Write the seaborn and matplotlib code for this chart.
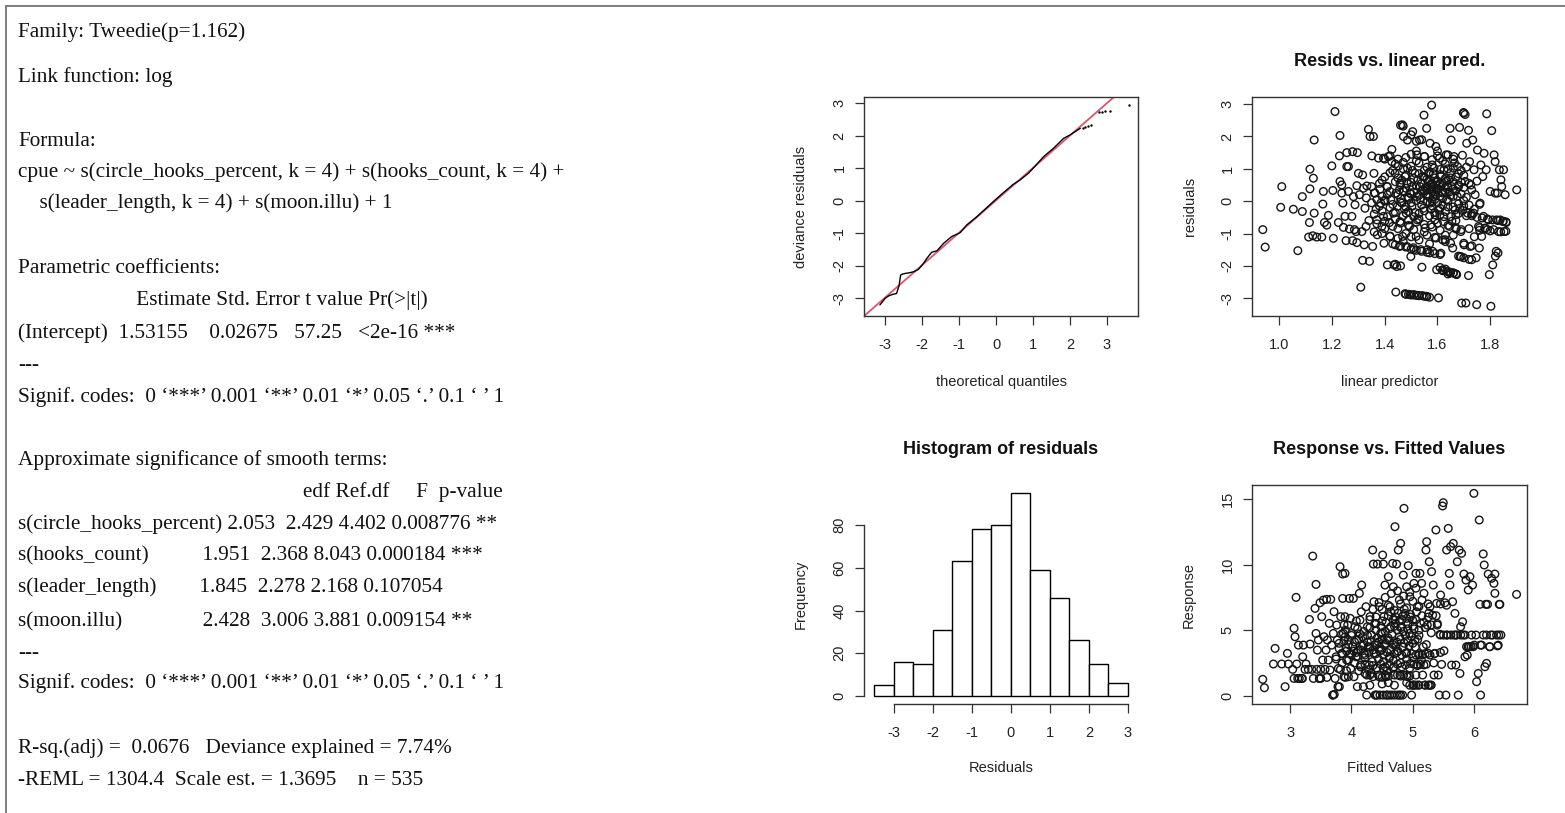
import matplotlib
matplotlib.use("Agg")
import matplotlib.pyplot as plt
import seaborn as sns
from matplotlib.lines import Line2D

# ---------------- data ----------------
summary_lines = [
    "Family: Tweedie(p=1.162)",
    "Link function: log",
    "Formula:",
    "cpue ~ s(circle_hooks_percent, k = 4) + s(hooks_count, k = 4) +",
    "    s(leader_length, k = 4) + s(moon.illu) + 1",
    "Parametric coefficients:",
    " " * 22 + "Estimate Std. Error t value Pr(>|t|)",
    "(Intercept)  1.53155    0.02675   57.25   <2e-16 ***",
    "---",
    "Signif. codes:  0 \u2018***\u2019 0.001 \u2018**\u2019 0.01 \u2018*\u2019 0.05 \u2018.\u2019 0.1 \u2018 \u2019 1",
    "Approximate significance of smooth terms:",
    " " * 53 + "edf Ref.df     F  p-value",
    "s(circle_hooks_percent) 2.053  2.429 4.402 0.008776 **",
    "s(hooks_count)          1.951  2.368 8.043 0.000184 ***",
    "s(leader_length)        1.845  2.278 2.168 0.107054",
    "s(moon.illu)               2.428  3.006 3.881 0.009154 **",
    "---",
    "Signif. codes:  0 \u2018***\u2019 0.001 \u2018**\u2019 0.01 \u2018*\u2019 0.05 \u2018.\u2019 0.1 \u2018 \u2019 1",
    "R-sq.(adj) =  0.0676   Deviance explained = 7.74%",
    "-REML = 1304.4  Scale est. = 1.3695    n = 535",
]
summary_baselines_px = [37.3, 81.7, 145.7, 176.7, 208.3, 273.3, 305, 338.3, 370, 401.7,
                        465, 496.7, 529.3, 560, 591.7, 626.7, 657.5, 688.3, 753.3, 785]

qq_theoretical = [-3.14, -3.0, -2.9, -2.78, -2.69, -2.62, -2.58, -2.52, -2.45, -2.38, -2.3, -2.23,
                  -2.1, -1.98, -1.87, -1.74, -1.6, -1.42, -1.2, -0.97, -0.79, -0.52, -0.25, -0.02,
                  0.2, 0.47, 0.65, 0.88, 1.06, 1.29, 1.56, 1.83, 2.01, 2.28]
qq_deviance = [-3.2, -3.0, -2.92, -2.87, -2.85, -2.6, -2.28, -2.25, -2.23, -2.22, -2.2, -2.18,
               -2.11, -1.95, -1.77, -1.58, -1.54, -1.31, -1.1, -0.98, -0.74, -0.49, -0.21, 0.03,
               0.25, 0.51, 0.64, 0.85, 1.07, 1.36, 1.62, 1.92, 2.03, 2.23]
qq_tail_theoretical = [2.35, 2.42, 2.5, 2.56, 2.78, 2.86, 2.95, 3.08, 3.6]
qq_tail_deviance = [2.25, 2.27, 2.3, 2.32, 2.72, 2.74, 2.76, 2.77, 2.93]
ref_slope = 0.996
ref_intercept = 0.014

resid_points = [
    (0.937, -0.88), (0.946, -1.42), (1.009, 0.45), (1.005, -0.19), (1.053, -0.25), (1.07, -1.53),
    (1.087, 0.14), (1.087, -0.32), (1.116, 0.99), (1.116, 0.38), (1.114, -0.66), (1.111, -1.11),
    (1.127, -1.07), (1.132, 1.89), (1.129, 0.71), (1.132, -0.37), (1.142, -1.11), (1.161, -1.11),
    (1.167, 0.30), (1.165, -0.09), (1.171, -0.66), (1.18, -0.74), (1.186, -0.44), (1.199, 1.09),
    (1.203, 0.33), (1.205, -1.15), (1.211, 2.77), (1.224, -0.66), (1.23, 2.03), (1.228, 1.40),
    (1.23, 0.61), (1.237, 0.50), (1.237, 0.25), (1.241, -0.06), (1.243, -0.81), (1.249, -0.47),
    (1.253, -1.22), (1.256, 1.50), (1.256, 1.07), (1.262, 1.07), (1.262, 0.30), (1.266, -0.86),
    (1.275, -0.47), (1.278, 1.53), (1.278, -1.22), (1.281, 0.14), (1.285, -0.88), (1.287, -0.11),
    (1.291, -0.94), (1.294, 0.48), (1.294, -1.28), (1.296, 1.50), (1.30, 0.86), (1.304, 0.20),
    (1.309, -2.66), (1.313, -0.94), (1.316, -1.83), (1.316, 0.81), (1.319, 0.40), (1.322, -1.35),
    (1.325, -0.22), (1.329, -0.78), (1.332, 0.47), (1.338, 2.22), (1.342, -1.86), (1.344, 2.00),
    (1.351, 1.40), (1.357, 2.00), (1.359, 0.86), (1.354, -1.40), (1.363, 0.25), (1.367, -0.25),
    (1.37, -0.58), (1.372, -1.04), (1.376, 1.33), (1.382, 0.37), (1.385, -0.06), (1.389, -0.78),
    (1.395, 1.33), (1.395, -0.47), (1.397, -1.30), (1.401, 0.04), (1.408, 0.45), (1.41, -1.97),
    (1.414, 1.38), (1.418, -0.66), (1.42, -1.09), (1.423, 0.04), (1.427, 1.60), (1.427, 1.22),
    (1.43, -1.32), (1.433, -0.37), (1.435, -1.97), (1.439, 0.86), (1.442, -2.81), (1.443, 0.25),
    (1.446, -2.02), (1.448, -0.16), (1.452, 1.09), (1.456, -1.40), (1.458, 0.56), (1.458, -0.63),
    (1.465, -0.06), (1.467, 2.36), (1.468, -1.09), (1.471, 2.00), (1.473, 0.30), (1.477, 0.76),
    (1.477, -2.86), (1.481, -0.37), (1.484, -1.40), (1.486, 1.89), (1.486, 1.02), (1.49, 0.09),
    (1.494, -0.78), (1.496, -2.89), (1.499, -1.71), (1.503, 0.45), (1.503, -0.16), (1.506, 2.15),
    (1.509, -1.44), (1.511, -2.89), (1.515, 0.86), (1.519, -1.09), (1.522, 1.43), (1.522, 0.14),
    (1.524, -0.58), (1.528, -2.92), (1.532, 1.89), (1.534, 0.45), (1.537, -1.50), (1.541, -2.04),
    (1.542, -2.92), (1.544, 0.76), (1.547, -0.22), (1.549, 2.66), (1.551, 1.38), (1.553, -0.83),
    (1.557, -2.94), (1.559, 2.25), (1.559, 0.35), (1.562, -1.50), (1.566, 0.86), (1.57, -2.97),
    (1.572, 1.79), (1.572, -0.06), (1.575, -0.73), (1.578, 2.97), (1.578, 0.56), (1.582, -1.55),
    (1.585, 0.14), (1.587, 1.02), (1.591, -0.42), (1.594, 1.69), (1.595, -1.14), (1.597, -2.12),
    (1.60, 0.40), (1.604, -2.99), (1.608, 1.33), (1.61, -0.22), (1.613, -1.61), (1.616, 0.30),
    (1.62, -2.12), (1.623, -0.63), (1.625, 0.97), (1.629, -1.19), (1.633, 1.43), (1.635, 0.04),
    (1.638, -2.17), (1.642, 0.66), (1.646, -0.78), (1.648, 2.25), (1.648, -2.22), (1.652, 1.89),
    (1.654, 0.45), (1.658, -1.45), (1.661, -2.22), (1.663, 1.38), (1.667, -0.27), (1.671, -0.86),
    (1.673, -2.27), (1.676, 1.07), (1.68, 0.45), (1.684, 2.28), (1.686, -1.71), (1.689, -0.94),
    (1.692, -3.15), (1.696, -0.29), (1.699, 2.74), (1.701, -1.35), (1.705, 0.61), (1.708, -3.15),
    (1.711, 1.79), (1.714, -0.37), (1.718, 2.19), (1.718, -2.30), (1.722, 1.22), (1.724, -1.40),
    (1.727, 0.50), (1.73, -1.81), (1.734, 1.89), (1.737, -0.37), (1.739, 0.97), (1.743, 0.20),
    (1.747, -1.75), (1.749, -3.20), (1.752, 1.58), (1.756, -0.78), (1.759, -1.45), (1.762, -0.06),
    (1.765, 1.12), (1.768, -1.09), (1.772, 0.76), (1.775, -0.47), (1.777, 1.48), (1.781, -0.83),
    (1.785, 0.97), (1.787, 2.70), (1.794, -0.58), (1.797, -2.27), (1.80, 0.30), (1.803, -3.25),
    (1.806, 2.18), (1.81, -1.97), (1.813, -0.88), (1.815, 1.43), (1.819, 1.22), (1.819, 0.25),
    (1.823, -1.55), (1.825, -0.58), (1.828, 0.25), (1.832, -0.94), (1.835, 0.97), (1.838, -0.58),
    (1.841, 0.66), (1.844, 0.45), (1.848, -0.63), (1.851, 0.97), (1.853, -0.94), (1.857, 0.20),
    (1.861, -0.66), (1.901, 0.35),
    (1.50, 1.45), (1.52, 1.55), (1.55, 1.38), (1.58, 1.28), (1.60, 1.40), (1.62, 1.25), (1.64, 1.43),
    (1.66, 1.30), (1.44, 1.15), (1.47, 1.00), (1.50, 1.08), (1.53, 1.18), (1.56, 1.05), (1.58, 1.12),
    (1.61, 0.98), (1.63, 1.15), (1.66, 1.02), (1.69, 0.95), (1.40, 0.75), (1.42, 0.88), (1.45, 0.72),
    (1.48, 0.80), (1.51, 0.70), (1.53, 0.85), (1.55, 0.75), (1.57, 0.90), (1.59, 0.72), (1.61, 0.82),
    (1.63, 0.70), (1.65, 0.88), (1.67, 0.75), (1.70, 0.80), (1.38, 0.55), (1.41, 0.45), (1.44, 0.60),
    (1.46, 0.50), (1.48, 0.40), (1.50, 0.58), (1.52, 0.48), (1.54, 0.55), (1.555, 0.42), (1.565, 0.60),
    (1.575, 0.50), (1.585, 0.38), (1.595, 0.58), (1.605, 0.48), (1.62, 0.55), (1.64, 0.45), (1.66, 0.60),
    (1.68, 0.50), (1.70, 0.42), (1.72, 0.55), (1.36, 0.25), (1.39, 0.15), (1.42, 0.30), (1.45, 0.20),
    (1.47, 0.32), (1.49, 0.12), (1.51, 0.28), (1.53, 0.18), (1.55, 0.32), (1.56, 0.22), (1.57, 0.12),
    (1.58, 0.30), (1.59, 0.20), (1.60, 0.35), (1.61, 0.15), (1.63, 0.28), (1.65, 0.18), (1.67, 0.32),
    (1.69, 0.22), (1.71, 0.12), (1.35, -0.05), (1.38, -0.15), (1.40, 0.00), (1.43, -0.10), (1.46, -0.02),
    (1.48, -0.18), (1.50, -0.05), (1.52, 0.02), (1.54, -0.12), (1.56, -0.02), (1.58, -0.15), (1.60, -0.05),
    (1.62, -0.12), (1.64, 0.00), (1.66, -0.18), (1.68, -0.08), (1.70, -0.15), (1.36, -0.40), (1.39, -0.30),
    (1.41, -0.48), (1.44, -0.35), (1.47, -0.45), (1.49, -0.32), (1.51, -0.48), (1.53, -0.38), (1.55, -0.30),
    (1.57, -0.45), (1.59, -0.35), (1.61, -0.42), (1.63, -0.32), (1.65, -0.48), (1.68, -0.38), (1.71, -0.45),
    (1.73, -0.40), (1.37, -0.70), (1.40, -0.62), (1.43, -0.78), (1.46, -0.68), (1.49, -0.75), (1.52, -0.65),
    (1.55, -0.72), (1.58, -0.80), (1.60, -0.68), (1.64, -0.75), (1.67, -0.82), (1.69, -0.88), (1.72, -0.85),
    (1.76, -0.82), (1.78, -0.85), (1.79, -0.88), (1.39, -1.00), (1.42, -1.08), (1.45, -1.15), (1.48, -1.00),
    (1.50, -1.10), (1.53, -1.20), (1.56, -1.05), (1.59, -1.12), (1.62, -1.20), (1.63, -1.25), (1.66, -1.05),
    (1.70, -1.30), (1.73, -1.38), (1.74, -1.10), (1.44, -1.35), (1.46, -1.38), (1.48, -1.42), (1.50, -1.48),
    (1.51, -1.50), (1.52, -1.52), (1.54, -1.55), (1.56, -1.58), (1.57, -1.60), (1.59, -1.62), (1.61, -1.65),
    (1.69, -1.72), (1.70, -1.75), (1.73, -0.45), (1.75, -0.50), (1.77, -0.52), (1.79, -0.55), (1.81, -0.58),
    (1.83, -0.60), (1.85, -0.62), (1.86, -0.64), (1.76, -0.90), (1.80, -0.92), (1.84, -0.95), (1.86, -0.93),
    (1.40, 1.30), (1.42, 1.40), (1.45, 1.30), (1.47, 1.20), (1.50, 2.05), (1.52, 1.85), (1.54, 1.90),
    (1.46, 2.35), (1.47, 2.32), (1.70, 2.72), (1.705, 2.68), (1.61, -2.05), (1.62, -2.15), (1.63, -2.10),
    (1.64, -2.18), (1.65, -2.20), (1.66, -2.22), (1.67, -2.25), (1.64, -2.25), (1.48, -2.88), (1.49, -2.88),
    (1.50, -2.90), (1.51, -2.90), (1.52, -2.91), (1.53, -2.92), (1.55, -2.94), (1.56, -2.95), (1.44, -1.95),
    (1.46, -2.0), (1.68, -1.7), (1.72, -1.8), (1.83, -1.6), (1.82, -1.7),
    (1.455, 0.35), (1.465, 0.65), (1.475, -0.25), (1.485, 0.55), (1.495, 0.25), (1.505, 0.95),
    (1.515, -0.35), (1.525, 0.65), (1.535, 0.05), (1.545, 0.35), (1.55, 0.95), (1.56, 0.45), (1.565, 0.15),
    (1.57, 0.65), (1.575, -0.25), (1.58, 0.45), (1.585, 0.85), (1.59, 0.05), (1.595, 0.35), (1.60, 0.62),
    (1.605, -0.28), (1.61, 0.52), (1.615, 0.78), (1.62, 0.25), (1.625, -0.48), (1.63, 0.42), (1.635, 0.62),
    (1.64, -0.18), (1.645, 0.28), (1.65, 0.72), (1.655, -0.62), (1.66, 0.38), (1.665, 1.18), (1.67, -0.42),
    (1.675, 0.15), (1.68, 0.85), (1.685, -0.22), (1.69, 0.58), (1.695, 1.42), (1.70, 0.02), (1.71, 1.05),
    (1.72, -0.12), (1.73, 0.35), (1.74, -0.25), (1.75, 0.62), (1.76, -0.1), (1.44, -0.55), (1.45, -0.85),
    (1.46, 0.08), (1.47, -1.25), (1.48, 1.35), (1.49, -0.58), (1.50, 0.22), (1.51, -0.88), (1.52, 1.25),
    (1.53, -0.55), (1.54, 0.32), (1.55, -0.95), (1.56, 0.68), (1.57, -1.32), (1.58, 0.02), (1.59, -0.58),
    (1.60, 1.55), (1.61, -0.9), (1.62, 0.08), (1.63, -1.05), (1.64, 1.0), (1.65, -1.3), (1.66, 0.15),
    (1.67, -0.6), (1.42, -0.2), (1.41, 0.2), (1.40, -0.85), (1.43, 0.95), (1.39, 0.65), (1.37, 0.05),
    (1.36, -0.95), (1.35, 0.45), (1.34, -0.6), (1.33, 0.1),
]
linear_predictor = [p[0] for p in resid_points]
residuals = [p[1] for p in resid_points]

hist_edges = [-3.5, -3.0, -2.5, -2.0, -1.5, -1.0, -0.5, 0.0, 0.5, 1.0, 1.5, 2.0, 2.5, 3.0]
hist_counts = [5, 16, 15, 31, 63, 78, 80, 95, 59, 46, 26, 15, 6]
hist_mids = [(hist_edges[i] + hist_edges[i + 1]) / 2 for i in range(len(hist_counts))]

fitted_points = [
    (2.555, 1.25), (2.582, 0.61), (2.756, 3.61), (2.729, 2.42), (2.864, 2.42), (2.919, 0.69), (2.957, 3.23),
    (2.973, 2.42), (3.043, 2.01), (3.065, 5.14), (3.081, 4.50), (3.065, 1.32), (3.098, 7.50), (3.109, 2.42),
    (3.125, 1.32), (3.136, 3.86), (3.19, 1.32), (3.206, 2.97), (3.217, 3.86), (3.244, 2.01), (3.26, 2.42),
    (3.298, 2.01), (3.315, 5.82), (3.326, 3.94), (3.353, 2.01), (3.369, 10.65), (3.38, 1.32), (3.407, 6.66),
    (3.423, 4.75), (3.423, 8.49), (3.434, 2.01), (3.445, 3.48), (3.461, 4.25), (3.477, 1.32), (3.488, 7.09),
    (3.499, 2.01), (3.516, 6.03), (3.532, 2.72), (3.543, 7.30), (3.553, 4.50), (3.57, 2.01), (3.586, 3.48),
    (3.597, 7.35), (3.608, 4.25), (3.624, 2.72), (3.64, 5.52), (3.651, 1.96), (3.662, 7.35), (3.678, 3.86),
    (3.695, 0.05), (3.705, 4.75), (3.716, 6.41), (3.733, 1.32), (3.749, 2.97), (3.76, 5.39), (3.77, 4.25),
    (3.787, 2.08), (3.803, 0.69), (3.814, 9.84), (3.825, 6.03), (3.841, 3.23), (3.857, 9.28), (3.857, 7.42),
    (3.868, 4.75), (3.879, 1.45), (3.895, 6.03), (3.895, 9.33), (3.912, 3.61), (3.922, 2.72), (3.939, 5.39),
    (3.95, 4.25), (3.966, 7.42), (3.977, 3.23), (3.988, 2.08), (4.004, 4.75), (4.02, 3.74), (4.031, 7.42),
    (4.042, 1.45), (4.058, 5.26), (4.074, 2.97), (4.085, 4.25), (4.096, 0.69), (4.112, 3.48), (4.129, 7.81),
    (4.139, 5.77), (4.15, 2.34), (4.167, 8.44), (4.183, 4.50), (4.194, 0.69), (4.205, 3.23), (4.221, 1.70),
    (4.237, 6.79), (4.248, 0.05), (4.259, 5.26), (4.275, 3.74), (4.292, 2.34), (4.302, 6.03), (4.319, 1.70),
    (4.329, 4.63), (4.346, 11.11), (4.357, 10.04), (4.367, 7.17), (4.367, 3.23), (4.384, 0.05), (4.40, 5.52),
    (4.411, 3.99), (4.422, 10.04), (4.438, 1.58), (4.454, 6.79), (4.465, 0.05), (4.476, 4.75), (4.492, 3.48),
    (4.508, 10.73), (4.519, 2.08), (4.519, 10.04), (4.53, 6.03), (4.546, 8.44), (4.563, 1.45), (4.574, 4.25),
    (4.584, 0.05), (4.601, 9.08), (4.617, 2.85), (4.628, 6.79), (4.639, 5.26), (4.655, 0.05), (4.671, 10.09),
    (4.682, 8.31), (4.693, 2.21), (4.709, 12.89), (4.709, 5.77), (4.725, 3.74), (4.736, 10.04), (4.747, 0.05),
    (4.763, 11.11), (4.78, 7.30), (4.791, 1.58), (4.801, 11.62), (4.818, 5.26), (4.834, 0.05), (4.845, 9.20),
    (4.856, 14.29), (4.872, 6.28), (4.888, 3.23), (4.899, 8.31), (4.91, 1.45), (4.926, 9.92), (4.943, 4.75),
    (4.953, 7.55), (4.964, 2.47), (4.98, 0.05), (4.997, 5.77), (5.008, 0.81), (5.018, 8.57), (5.035, 4.25),
    (5.051, 9.33), (5.062, 2.34), (5.073, 6.79), (5.089, 0.81), (5.105, 3.10), (5.116, 9.33), (5.127, 5.52),
    (5.143, 8.57), (5.16, 1.58), (5.17, 3.74), (5.181, 7.81), (5.198, 0.81), (5.214, 11.11), (5.225, 11.75),
    (5.236, 5.39), (5.252, 3.23), (5.268, 10.22), (5.279, 6.79), (5.29, 0.81), (5.306, 9.46), (5.323, 6.15),
    (5.333, 8.44), (5.345, 1.58), (5.36, 3.23), (5.376, 12.64), (5.387, 7.04), (5.398, 5.39), (5.415, 1.58),
    (5.431, 0.05), (5.442, 4.68), (5.453, 7.68), (5.469, 2.39), (5.485, 14.47), (5.496, 14.72), (5.507, 3.43),
    (5.523, 7.09), (5.539, 0.05), (5.55, 11.11), (5.561, 4.63), (5.577, 12.76), (5.594, 9.33), (5.605, 8.44),
    (5.615, 11.37), (5.632, 2.34), (5.648, 7.17), (5.659, 11.62), (5.67, 4.63), (5.686, 6.28), (5.702, 2.34),
    (5.713, 4.63), (5.724, 10.22), (5.74, 0.05), (5.756, 11.11), (5.767, 1.70), (5.778, 5.26), (5.794, 10.86),
    (5.811, 5.64), (5.821, 4.63), (5.832, 9.28), (5.849, 2.97), (5.865, 8.82), (5.875, 3.74), (5.887, 3.10),
    (5.903, 8.06), (5.919, 3.74), (5.93, 9.08), (5.957, 4.63), (5.973, 8.44), (5.984, 3.74), (5.995, 15.43),
    (6.028, 4.63), (6.039, 1.07), (6.066, 1.70), (6.082, 13.40), (6.093, 6.97), (6.104, 0.05), (6.12, 3.86),
    (6.147, 4.63), (6.147, 10.81), (6.163, 9.97), (6.174, 2.21), (6.19, 6.97), (6.201, 2.47), (6.217, 6.97),
    (6.228, 9.28), (6.255, 3.74), (6.271, 4.63), (6.283, 8.95), (6.321, 8.57), (6.337, 9.28), (6.337, 7.81),
    (6.364, 4.63), (6.391, 3.86), (6.408, 6.97), (6.418, 6.97), (6.435, 4.63), (6.69, 7.73),
    (4.25, 1.58), (4.30, 1.58), (4.35, 1.45), (4.45, 1.45), (4.50, 1.40), (4.55, 1.58), (4.60, 1.50),
    (4.70, 1.58), (4.75, 1.58), (4.80, 1.50), (4.85, 1.58), (4.90, 1.58), (4.95, 1.50), (5.05, 1.58),
    (4.15, 2.2), (4.22, 2.4), (4.28, 2.0), (4.35, 2.3), (4.42, 2.1), (4.48, 2.4), (4.55, 2.2), (4.62, 2.35),
    (4.68, 2.1), (4.75, 2.4), (4.82, 2.2), (4.88, 2.35), (4.95, 2.1), (5.02, 2.4), (5.08, 2.3), (5.12, 2.4),
    (5.18, 2.35), (5.22, 2.4), (3.85, 3.2), (3.92, 3.4), (4.00, 3.1), (4.08, 3.3), (4.15, 3.5), (4.22, 3.1),
    (4.28, 3.3), (4.35, 3.5), (4.40, 3.2), (4.46, 3.4), (4.52, 3.1), (4.58, 3.3), (4.64, 3.5), (4.70, 3.2),
    (4.76, 3.4), (4.82, 3.1), (4.90, 3.3), (4.98, 3.2), (5.05, 3.1), (5.10, 3.2), (5.15, 3.1), (5.20, 3.2),
    (5.28, 3.1), (5.35, 3.2), (5.45, 3.3), (3.80, 4.0), (3.88, 4.2), (3.95, 3.9), (4.05, 4.1), (4.12, 4.3),
    (4.20, 3.9), (4.26, 4.1), (4.32, 4.2), (4.38, 3.9), (4.44, 4.1), (4.50, 4.3), (4.56, 4.0), (4.62, 4.2),
    (4.68, 3.9), (4.74, 4.1), (4.80, 4.3), (4.86, 4.0), (4.92, 4.2), (5.00, 4.0), (5.08, 4.3), (3.90, 5.0),
    (4.10, 5.1), (4.20, 4.9), (4.30, 5.2), (4.40, 5.0), (4.48, 5.3), (4.55, 4.9), (4.62, 5.1), (4.70, 5.3),
    (4.75, 5.0), (4.80, 5.2), (4.85, 4.9), (4.92, 5.1), (5.00, 5.3), (5.10, 5.0), (5.20, 5.2), (5.30, 5.4),
    (5.40, 5.5), (4.30, 5.8), (4.40, 6.0), (4.50, 5.7), (4.60, 6.1), (4.68, 5.8), (4.72, 6.0), (4.78, 5.7),
    (4.84, 6.1), (4.90, 5.9), (4.96, 6.2), (5.05, 5.8), (5.15, 6.1), (5.25, 6.0), (4.50, 6.6), (4.60, 6.9),
    (4.70, 6.5), (4.80, 7.0), (4.90, 6.7), (5.00, 7.2), (5.10, 6.8), (5.25, 7.0), (5.45, 7.0), (5.55, 6.9),
    (5.45, 4.63), (5.50, 4.63), (5.55, 4.63), (5.62, 4.63), (5.70, 4.63), (5.78, 4.63), (5.85, 4.63),
    (6.20, 4.63), (6.30, 4.63), (6.40, 4.63), (5.90, 3.74), (5.95, 3.74), (6.00, 3.86), (6.10, 3.86),
    (6.25, 3.74), (6.38, 3.80), (5.00, 0.81), (5.02, 0.81), (5.05, 0.81), (5.10, 0.81), (5.20, 0.81),
    (5.25, 0.81), (5.27, 0.81), (5.30, 0.81), (4.40, 0.05), (4.42, 0.05), (4.52, 0.05), (4.57, 0.05),
    (4.62, 0.05), (4.70, 0.05), (4.78, 0.05), (4.80, 0.05), (3.48, 1.32), (3.50, 1.32), (3.20, 1.32),
    (3.15, 1.32), (3.70, 0.05), (3.72, 0.10), (3.78, 0.69), (3.60, 1.40), (3.90, 1.40), (3.95, 1.45),
    (4.22, 2.9), (4.26, 4.6), (4.3, 3.7), (4.34, 2.6), (4.38, 5.5), (4.42, 4.4), (4.44, 2.8), (4.46, 3.7),
    (4.5, 4.8), (4.52, 2.6), (4.54, 3.9), (4.56, 5.6), (4.58, 1.9), (4.6, 4.4), (4.62, 3.0), (4.64, 6.4),
    (4.66, 4.7), (4.68, 2.7), (4.7, 4.0), (4.72, 5.5), (4.74, 3.3), (4.76, 6.3), (4.78, 4.5), (4.8, 2.5),
    (4.82, 5.8), (4.84, 3.7), (4.86, 6.6), (4.88, 4.6), (4.9, 2.8), (4.92, 5.5), (4.94, 3.8), (4.96, 6.0),
    (4.98, 4.5), (5.0, 2.9), (5.02, 5.1), (5.04, 3.7), (5.06, 6.4), (5.1, 4.6), (5.14, 2.7), (5.18, 5.6),
    (5.22, 3.9), (5.26, 6.3), (5.3, 4.8), (5.34, 2.5), (5.38, 6.1), (4.1, 3.0), (4.05, 2.5), (4.0, 4.6),
    (3.95, 2.7), (3.9, 4.5), (3.85, 2.5), (3.8, 3.6), (3.75, 2.8), (4.14, 4.7), (4.18, 3.8), (4.16, 6.4),
    (4.12, 1.9), (4.08, 5.7), (4.04, 3.4), (3.98, 5.9), (3.92, 1.9), (3.88, 5.4), (3.84, 4.7), (3.82, 2.0),
    (4.35, 6.6), (4.45, 7.1), (4.55, 7.5), (4.65, 7.8), (4.75, 8.0), (4.85, 7.6), (4.95, 7.9), (5.05, 8.2),
    (5.15, 7.3), (4.3, 0.8), (4.5, 0.9), (4.7, 0.8), (4.9, 1.0), (4.95, 0.8), (4.6, 1.0),
]
fitted_values = [p[0] for p in fitted_points]
response = [p[1] for p in fitted_points]

# ---------------- style ----------------
sns.set_style("white")
plt.rcParams["font.family"] = ["Liberation Sans", "DejaVu Sans"]
plt.rcParams["axes.unicode_minus"] = False

W, H = 1565, 813
fig = plt.figure(figsize=(W / 100, H / 100), dpi=100)
fig.patch.set_facecolor("white")

# outer frame lines (top and left)
fig.add_artist(Line2D([6 / W, 1.0], [1 - 6 / H, 1 - 6 / H], transform=fig.transFigure,
                      color="#6a6a6a", lw=1.2))
fig.add_artist(Line2D([6 / W, 6 / W], [0.0, 1 - 6 / H], transform=fig.transFigure,
                      color="#6a6a6a", lw=1.2))

# summary text
for line, ypx in zip(summary_lines, summary_baselines_px):
    fig.text(18 / W, 1 - ypx / H, line, fontsize=15.3, family="Liberation Serif",
             color="#111111", ha="left", va="baseline")

INK = "#222222"


def axes_px(left, top, right, bottom):
    return fig.add_axes([left / W, 1 - bottom / H, (right - left) / W, (bottom - top) / H])


def r_style(ax, box=True):
    for s in ax.spines.values():
        s.set_color("#333333")
        s.set_linewidth(1.0)
        s.set_visible(box)
    ax.tick_params(axis="both", direction="out", length=6.5, width=0.9, color="#333333",
                   labelsize=10.5, labelcolor=INK, bottom=True, left=True, top=False, right=False)
    ax.tick_params(axis="x", pad=9)
    ax.tick_params(axis="y", pad=6, labelrotation=90)
    for lab in ax.get_yticklabels():
        lab.set_va("center")
    ax.grid(False)


def labels(ax, xl, yl, xy, yx):
    ax.set_xlabel(xl, fontsize=10.5, color=INK)
    ax.set_ylabel(yl, fontsize=10.5, color=INK)
    ax.xaxis.label.set_va("center")
    ax.yaxis.label.set_va("center")
    ax.xaxis.set_label_coords(0.5, xy)
    ax.yaxis.set_label_coords(yx, 0.5)


scatter_kw = dict(s=30, facecolor="none", edgecolor="#151515", linewidth=1.0, marker="o", legend=False)

# ---- QQ plot ----
ax1 = axes_px(864, 97, 1138, 316)
ax1.set_xlim(-3.57, 3.84)
ax1.set_ylim(-3.54, 3.19)
ax1.axline((0, ref_intercept), slope=ref_slope, color="#DF536B", lw=1.3, zorder=1)
sns.lineplot(x=qq_theoretical, y=qq_deviance, ax=ax1, color="black", lw=1.0, sort=False,
             estimator=None, zorder=2)
sns.scatterplot(x=qq_tail_theoretical, y=qq_tail_deviance, ax=ax1, s=3, color="black",
                linewidth=0, legend=False, zorder=2)
ax1.set_xticks([-3, -2, -1, 0, 1, 2, 3])
ax1.set_yticks([-3, -2, -1, 0, 1, 2, 3])
r_style(ax1)
labels(ax1, "theoretical quantiles", "deviance residuals", -0.30, -0.231)

# ---- Resids vs linear pred ----
ax2 = axes_px(1252, 97, 1527, 316)
sns.scatterplot(x=linear_predictor, y=residuals, ax=ax2, **scatter_kw)
ax2.set_xlim(0.896, 1.94)
ax2.set_ylim(-3.55, 3.22)
ax2.set_xticks([1.0, 1.2, 1.4, 1.6, 1.8])
ax2.set_xticklabels(["1.0", "1.2", "1.4", "1.6", "1.8"])
ax2.set_yticks([-3, -2, -1, 0, 1, 2, 3])
r_style(ax2)
labels(ax2, "linear predictor", "residuals", -0.30, -0.2255)
ax2.set_title("Resids vs. linear pred.", fontsize=13, fontweight="bold", pad=22, color="#111111")

# ---- Histogram ----
ax3 = axes_px(864, 485, 1138, 704)
sns.histplot(x=hist_mids, weights=hist_counts, bins=hist_edges, ax=ax3, color="white",
             edgecolor="black", linewidth=1.0, alpha=1.0, stat="count")
ax3.set_xlim(-3.76, 3.26)
ax3.set_ylim(-3.8, 98.8)
ax3.set_xticks([-3, -2, -1, 0, 1, 2, 3])
ax3.set_yticks([0, 20, 40, 60, 80])
r_style(ax3)
ax3.spines["right"].set_visible(False)
ax3.spines["top"].set_visible(False)
ax3.spines["left"].set_visible(True)
ax3.spines["bottom"].set_visible(True)
ax3.spines["bottom"].set_bounds(-3, 3)
ax3.spines["left"].set_bounds(0, 80)
labels(ax3, "Residuals", "Frequency", -0.294, -0.231)
ax3.set_title("Histogram of residuals", fontsize=13, fontweight="bold", pad=22, color="#111111")

# ---- Response vs fitted ----
ax4 = axes_px(1252, 485, 1527, 704)
sns.scatterplot(x=fitted_values, y=response, ax=ax4, **scatter_kw)
ax4.set_xlim(2.38, 6.86)
ax4.set_ylim(-0.63, 16.07)
ax4.set_xticks([3, 4, 5, 6])
ax4.set_yticks([0, 5, 10, 15])
r_style(ax4)
labels(ax4, "Fitted Values", "Response", -0.294, -0.229)
ax4.set_title("Response vs. Fitted Values", fontsize=13, fontweight="bold", pad=22, color="#111111")

fig.savefig("out.png", dpi=100, facecolor="white")
